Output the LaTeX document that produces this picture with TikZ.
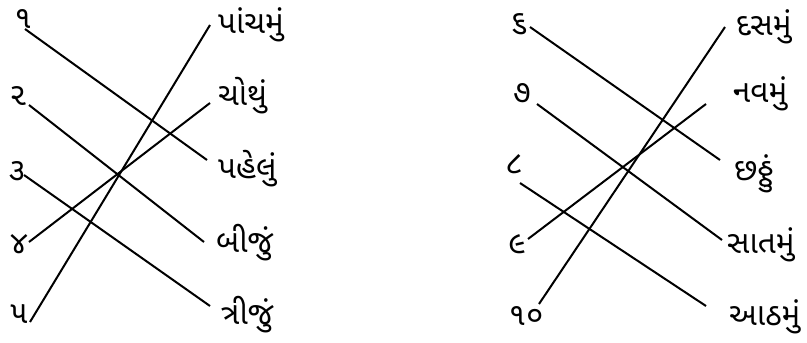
\documentclass[tikz,border=0pt]{standalone}
\usepackage{fontspec}
\newfontfamily\guj[Script=Gujarati]{Noto Sans Gujarati UI}
\begin{document}
\begin{tikzpicture}[x=1pt,y=-1pt,
  lbl/.style={font=\guj\fontsize{31.5}{38}\selectfont, inner sep=0pt},
  num/.style={lbl, anchor=base},
  word/.style={lbl, anchor=base west},
  link/.style={line width=2pt}]
\useasboundingbox (0,0) rectangle (807,343);
% left block numerals
\node[num] (n1) at (23,28) {૧};
\node[num] (n2) at (18,105) {૨};
\node[num] (n3) at (17,180) {૩};
\node[num] (n4) at (19,253) {૪};
\node[num] (n5) at (19,323) {૫};
% left block words
\node[word] (w1) at (218,33) {પાંચમું};
\node[word] (w2) at (218,105) {ચોથું};
\node[word] (w3) at (218,178) {પહેલું};
\node[word] (w4) at (216,252) {બીજું};
\node[word] (w5) at (221,324) {ત્રીજું};
% left endpoints
\coordinate (a1) at (25,29);  \coordinate (b3) at (207,160);
\coordinate (a2) at (29,105); \coordinate (b4) at (204,242);
\coordinate (a3) at (24,175); \coordinate (b5) at (210,306);
\coordinate (a4) at (29,242); \coordinate (b2) at (210,103);
\coordinate (a5) at (30,322); \coordinate (b1) at (210,25);
\draw[link] (a1) -- (b3);
\draw[link] (a2) -- (b4);
\draw[link] (a3) -- (b5);
\draw[link] (a4) -- (b2);
\draw[link] (a5) -- (b1);
% right block numerals
\node[num] (n6) at (519,32) {૬};
\node[num] (n7) at (522,102) {૭};
\node[num] (n8) at (514,173) {૮};
\node[num] (n9) at (517,253) {૯};
\node[num] (n10) at (526,325) {૧૦};
% right block words
\node[word] (w6) at (736,35) {દસમું};
\node[word] (w7) at (733,102) {નવમું};
\node[word] (w8) at (734,180) {છઠ્ઠું};
\node[word] (w9) at (727,253) {સાતમું};
\node[word] (w10) at (729,325) {આઠમું};
% right endpoints
\coordinate (c6) at (530,27);  \coordinate (d8) at (720,160);
\coordinate (c7) at (537,104); \coordinate (d9) at (722,240);
\coordinate (c8) at (520,183); \coordinate (d10) at (706,306);
\coordinate (c9) at (528,239); \coordinate (d7) at (706,104);
\coordinate (c10) at (539,304); \coordinate (d6) at (725,27);
\draw[link] (c6) -- (d8);
\draw[link] (c7) -- (d9);
\draw[link] (c8) -- (d10);
\draw[link] (c9) -- (d7);
\draw[link] (c10) -- (d6);
\end{tikzpicture}
\end{document}
